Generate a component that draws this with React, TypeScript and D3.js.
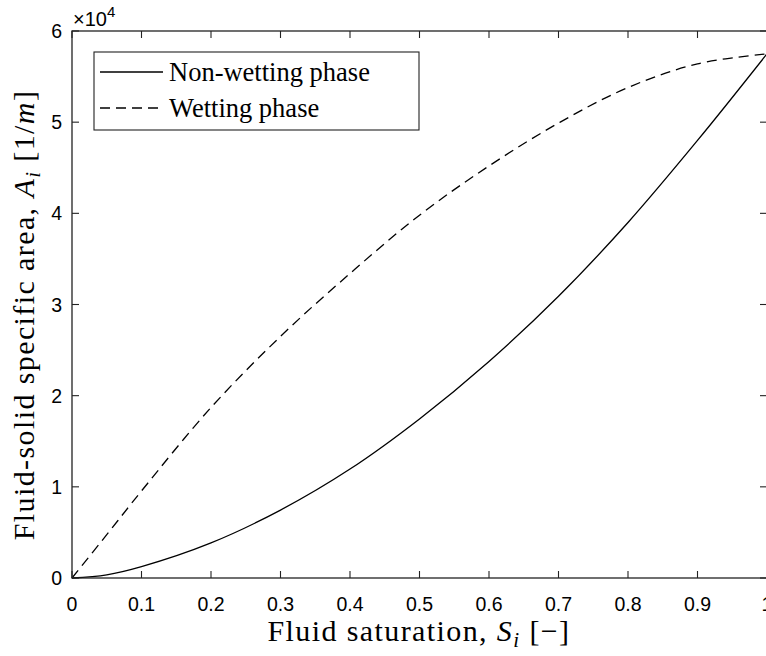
import * as d3 from "d3";

const saturation = [0, 0.05, 0.1, 0.2, 0.3, 0.4, 0.5, 0.6, 0.7, 0.8, 0.9, 1.0];
const nonWetting = [0, 350, 1250, 3850, 7450, 11950, 17450, 23750, 30900, 39000, 48000, 57500];
const wetting = [0, 4750, 9550, 18700, 26500, 33400, 39800, 45200, 49900, 53800, 56400, 57500];
const xTicks = [0, 0.1, 0.2, 0.3, 0.4, 0.5, 0.6, 0.7, 0.8, 0.9, 1];
const yTicks = [0, 10000, 20000, 30000, 40000, 50000, 60000];

const W = 766, H = 656;
const serif = "'Liberation Serif', 'Times New Roman', serif";
const sans = "'Liberation Sans', Arial, sans-serif";

export default function App() {
  const x = d3.scaleLinear().domain([0, 1]).range([72, 767]);
  const y = d3.scaleLinear().domain([0, 60000]).range([578, 31]);
  const line = d3.line<number>()
    .x((_, i) => x(saturation[i]))
    .y(d => y(d))
    .curve(d3.curveCatmullRom.alpha(0.5));

  const [x0, x1] = x.range();
  const [y0, y1] = y.range();
  const tick = 7;

  return (
    <div style={{ position: "fixed", left: 0, top: 0 }}>
      <svg width={W} height={H} style={{ display: "block", background: "#fff" }}>
        {/* curves */}
        <path d={line(nonWetting) || ""} fill="none" stroke="#000" strokeWidth={1.3} />
        <path d={line(wetting) || ""} fill="none" stroke="#000" strokeWidth={1.3} strokeDasharray="10,6" />

        {/* axes box */}
        <rect x={x0} y={y1} width={x1 - x0} height={y0 - y1} fill="none" stroke="#222" strokeWidth={1.3} />
        {xTicks.map(t => (
          <g key={"x" + t}>
            <line x1={x(t)} x2={x(t)} y1={y0} y2={y0 - tick} stroke="#222" strokeWidth={1.1} />
            <line x1={x(t)} x2={x(t)} y1={y1} y2={y1 + tick} stroke="#222" strokeWidth={1.1} />
            <text x={x(t)} y={611} textAnchor="middle" fontFamily={sans} fontSize={19.5}>{d3.format("~g")(t)}</text>
          </g>
        ))}
        {yTicks.map(t => (
          <g key={"y" + t}>
            <line x1={x0} x2={x0 + tick} y1={y(t)} y2={y(t)} stroke="#222" strokeWidth={1.1} />
            <line x1={x1} x2={x1 - tick} y1={y(t)} y2={y(t)} stroke="#222" strokeWidth={1.1} />
            <text x={62} y={y(t)} dy="0.36em" textAnchor="end" fontFamily={sans} fontSize={19.5}>{t / 10000}</text>
          </g>
        ))}
        <text x={73} y={26} fontFamily={sans} fontSize={20}>
          ×10<tspan dy={-9} fontSize={15}>4</tspan>
        </text>

        {/* axis labels */}
        <text x={419} y={641} textAnchor="middle" fontFamily={serif} fontSize={30} letterSpacing={1.4}>
          Fluid saturation, <tspan fontStyle="italic">S</tspan>
          <tspan fontStyle="italic" fontSize={21} dy={6}>i</tspan>
          <tspan dy={-6}> [−]</tspan>
        </text>
        <text transform="translate(34,315) rotate(-90)" textAnchor="middle" fontFamily={serif} fontSize={30} letterSpacing={1.4}>
          Fluid-solid specific area, <tspan fontStyle="italic">A</tspan>
          <tspan fontStyle="italic" fontSize={21} dy={6}>i</tspan>
          <tspan dy={-6}> [1/</tspan><tspan fontStyle="italic">m</tspan>]
        </text>

        {/* legend */}
        <rect x={94} y={52} width={325} height={78} fill="#fff" stroke="#222" strokeWidth={1.1} />
        <line x1={100} x2={163} y1={72} y2={72} stroke="#000" strokeWidth={1.3} />
        <line x1={100} x2={163} y1={108} y2={108} stroke="#000" strokeWidth={1.3} strokeDasharray="10,6" />
        <text x={169} y={81} fontFamily={serif} fontSize={26.5}>Non-wetting phase</text>
        <text x={169} y={117} fontFamily={serif} fontSize={26.5}>Wetting phase</text>
      </svg>
    </div>
  );
}
